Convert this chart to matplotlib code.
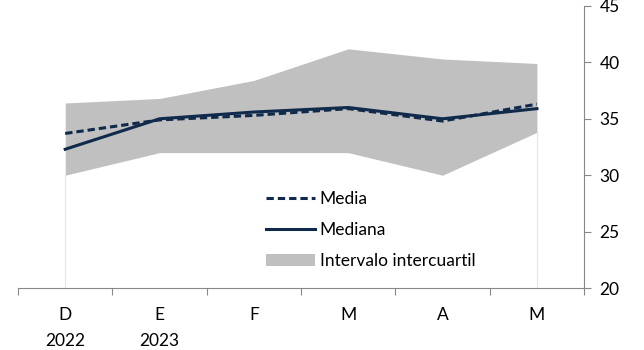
import matplotlib
matplotlib.use('Agg')
import matplotlib.pyplot as plt
import numpy as np

meses = ["D\n2022", "E\n2023", "F", "M", "A", "M"]
media = [33.7, 34.9, 35.3, 35.9, 34.8, 36.3]
mediana = [32.3, 35.0, 35.6, 36.0, 35.0, 35.9]
q1 = [30.0, 32.0, 32.0, 32.0, 30.0, 33.8]
q3 = [36.4, 36.8, 38.4, 41.2, 40.3, 39.9]

plt.rcParams['font.family'] = ['Lato', 'DejaVu Sans']

navy = '#0f2a4a'
gris = '#c0c0c0'

fig = plt.figure(figsize=(6.44, 3.5), dpi=100)
ax = fig.add_axes([0.028, 0.177, 0.879, 0.806])
x = np.arange(len(meses))

# banda intercuartil, con los bordes laterales finos hasta el eje
ax.fill_between(x, q1, q3, color=gris, lw=0, label='Intervalo intercuartil', zorder=1)
ax.vlines([x[0], x[-1]], 20, [q1[0], q1[-1]], color='#e4e4e4', lw=0.8, zorder=1)

ax.plot(x, media, color=navy, lw=2.2, ls=(0, (2.4, 1.3)), label='Media', zorder=3)
ax.plot(x, mediana, color=navy, lw=2.2, label='Mediana', zorder=3)

ax.set_xlim(-0.5, len(meses) - 0.5)
ax.set_ylim(20, 45)
ax.set_yticks(range(20, 46, 5))
ax.yaxis.tick_right()
ax.tick_params(axis='y', direction='out', length=5, width=0.8, color='#888888',
               labelsize=12.5, pad=6)

ax.set_xticks(x)
ax.set_xticklabels(meses)
ax.set_xticks(np.arange(-0.5, len(meses)), minor=True)
ax.tick_params(axis='x', which='major', length=0, labelsize=12.5, pad=14)
ax.tick_params(axis='x', which='minor', direction='out', length=5, width=0.8, color='#888888')
for lbl in ax.get_xticklabels():
    lbl.set_linespacing(1.75)

for s in ['top', 'left']:
    ax.spines[s].set_visible(False)
for s in ['bottom', 'right']:
    ax.spines[s].set_color('#888888')
    ax.spines[s].set_linewidth(0.8)

h, l = ax.get_legend_handles_labels()
orden = [1, 2, 0]
ax.legend([h[i] for i in orden], [l[i] for i in orden], loc='upper left',
          bbox_to_anchor=(0.413, 0.455), bbox_transform=fig.transFigure,
          frameon=False, fontsize=12.5, handlelength=2.8, handletextpad=0.3,
          labelspacing=0.88, borderpad=0, borderaxespad=0)

fig.savefig('out.png', dpi=100)
